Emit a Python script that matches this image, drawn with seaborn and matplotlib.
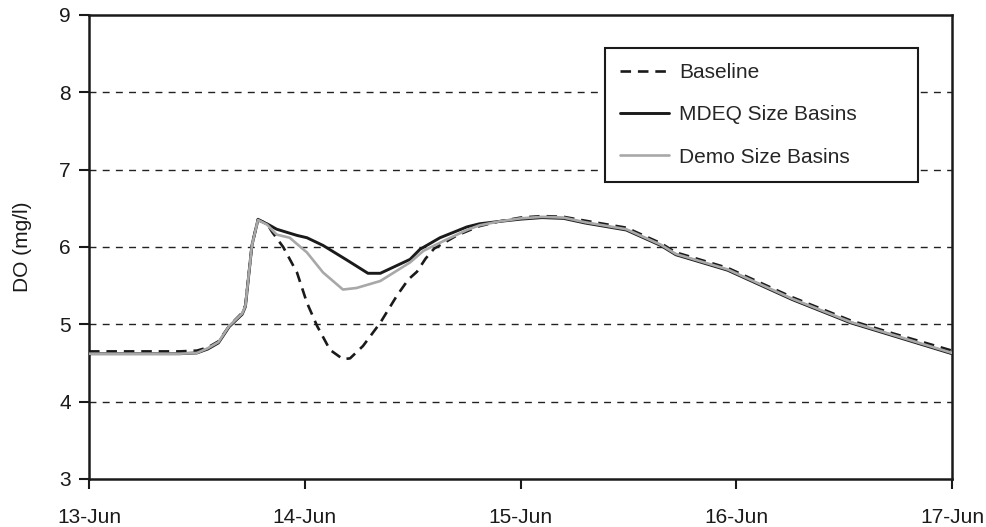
import seaborn as sns
import matplotlib.pyplot as plt
import matplotlib.dates as mdates
import numpy as np
import pandas as pd

# days after 13-Jun 00:00 and DO values (mg/l)
base_days = [0, 0.42, 0.5, 0.55, 0.6, 0.65, 0.71, 0.725, 0.755, 0.783, 0.825,
             0.85, 0.90, 0.964, 1.01, 1.057, 1.117, 1.177, 1.21, 1.27, 1.35,
             1.427, 1.48, 1.52, 1.56, 1.60, 1.705, 1.81, 1.9, 2.0, 2.1, 2.2,
             2.3, 2.49, 2.65, 2.72, 2.96, 3.26, 3.53, 3.73, 4.0]
base_do = [4.65, 4.65, 4.66, 4.70, 4.78, 4.98, 5.15, 5.25, 6.02, 6.36, 6.30,
           6.19, 6.00, 5.67, 5.28, 4.98, 4.67, 4.55, 4.56, 4.72, 5.02,
           5.37, 5.58, 5.68, 5.85, 5.98, 6.15, 6.27, 6.33, 6.38, 6.40, 6.39,
           6.34, 6.25, 6.05, 5.93, 5.73, 5.35, 5.05, 4.88, 4.66]

mdeq_days = [0, 0.42, 0.5, 0.55, 0.6, 0.65, 0.71, 0.725, 0.755, 0.783, 0.825,
             0.87, 0.964, 1.01, 1.085, 1.196, 1.293, 1.35, 1.488, 1.534, 1.627,
             1.752, 1.81, 1.9, 2.0, 2.1, 2.2, 2.3, 2.49, 2.65, 2.72, 2.96,
             3.26, 3.53, 3.73, 4.0]
mdeq_do = [4.62, 4.62, 4.63, 4.68, 4.76, 4.97, 5.13, 5.23, 6.02, 6.35, 6.30,
           6.23, 6.15, 6.12, 6.02, 5.83, 5.66, 5.66, 5.84, 5.97, 6.12,
           6.26, 6.30, 6.33, 6.36, 6.38, 6.37, 6.31, 6.22, 6.02, 5.90, 5.70,
           5.32, 5.02, 4.85, 4.62]

demo_days = [0, 0.42, 0.5, 0.55, 0.6, 0.65, 0.71, 0.725, 0.755, 0.783, 0.825,
             0.87, 0.93, 1.01, 1.085, 1.177, 1.24, 1.35, 1.488, 1.55, 1.66,
             1.752, 1.81, 1.9, 2.0, 2.1, 2.2, 2.3, 2.49, 2.65, 2.72, 2.96,
             3.26, 3.53, 3.73, 4.0]
demo_do = [4.62, 4.62, 4.63, 4.69, 4.77, 4.98, 5.14, 5.24, 6.02, 6.35, 6.29,
           6.16, 6.12, 5.93, 5.67, 5.45, 5.47, 5.56, 5.80, 5.95, 6.10,
           6.22, 6.28, 6.33, 6.37, 6.39, 6.38, 6.32, 6.23, 6.03, 5.91, 5.71,
           5.33, 5.03, 4.86, 4.63]

start = pd.Timestamp("2008-06-13")
def to_df(days, vals, name):
    return pd.DataFrame({"time": start + pd.to_timedelta(days, unit="D"),
                         "DO": vals, "run": name})

sns.set_style("white")
plt.rcParams['font.family'] = ['Liberation Sans', 'DejaVu Sans']
ink = "#1a1a1a"

fig = plt.figure(figsize=(9.87, 5.27), dpi=100)
ax = fig.add_axes([89 / 987, 1 - 479 / 527, 863 / 987, 464 / 527])

sns.lineplot(data=to_df(base_days, base_do, "Baseline"), x="time", y="DO", ax=ax,
             color=ink, lw=1.9, label="Baseline", zorder=3)
ax.lines[-1].set_dashes((4, 2.6))
sns.lineplot(data=to_df(mdeq_days, mdeq_do, "MDEQ"), x="time", y="DO", ax=ax,
             color=ink, lw=2.1, label="MDEQ Size Basins", zorder=4)
sns.lineplot(data=to_df(demo_days, demo_do, "Demo"), x="time", y="DO", ax=ax,
             color="#a8a8a8", lw=1.9, label="Demo Size Basins", zorder=5)

ax.set_xlim(start, start + pd.Timedelta(days=4))
ax.set_ylim(3, 9)
ax.set_yticks(np.arange(3, 10, 1))
ax.xaxis.set_major_locator(mdates.DayLocator())
ax.xaxis.set_major_formatter(mdates.DateFormatter("%-d-%b"))

# dashed horizontal gridlines
for y in range(4, 9):
    ax.axhline(y, color="#222222", lw=1.0, ls=(0, (5, 4.5)), zorder=1)

for s in ax.spines.values():
    s.set_color(ink)
    s.set_linewidth(1.8)

ax.tick_params(axis="y", direction="out", length=7, width=1.5, colors=ink,
               labelsize=15, pad=6, left=True)
ax.tick_params(axis="x", direction="out", length=7, width=1.5, colors=ink,
               labelsize=15, pad=14, bottom=True)

ax.set_xlabel("")
ax.set_ylabel("DO (mg/l)", fontsize=15, color=ink)
ax.yaxis.set_label_coords(-0.066, 0.5)

leg = ax.legend(loc="upper left",
                bbox_to_anchor=(605 / 987, 1 - 48 / 527, 313 / 987, 0),
                bbox_transform=fig.transFigure, mode="expand",
                borderaxespad=0, fontsize=15, handlelength=2.35,
                labelspacing=1.12, handletextpad=0.5, borderpad=0.72,
                fancybox=False, framealpha=1)
leg.get_frame().set_edgecolor(ink)
leg.get_frame().set_linewidth(1.5)
leg.legend_handles[0].set_dashes((4, 2.6))

fig.savefig("out.png", dpi=100)
